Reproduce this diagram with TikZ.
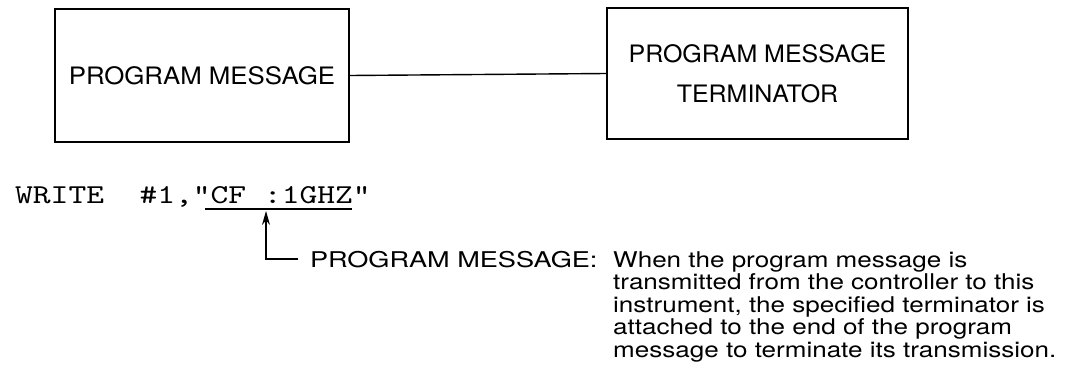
\documentclass[tikz,border=0pt]{standalone}
\usepackage{fontspec}
\usetikzlibrary{arrows.meta}
\newfontfamily\boxfonta[FakeStretch=1.075]{TeX Gyre Heros}
\newfontfamily\boxfontb[FakeStretch=1.04]{TeX Gyre Heros}
\newfontfamily\descfont[FakeStretch=1.2]{TeX Gyre Heros}
\newfontfamily\labelfont[FakeStretch=1.25]{TeX Gyre Heros}
\newfontfamily\courfont[FakeStretch=1.24]{lmmono10-regular.otf}
\tikzset{
  boxnode/.style={draw, line width=1.5pt, inner sep=0pt, align=center},
  conn/.style={line width=1.4pt},
  desc/.style={inner sep=0pt, font=\descfont\fontsize{21.7}{22.45}\selectfont, align=left},
  labeltext/.style={inner sep=0pt, font=\labelfont\fontsize{21.7}{22.45}\selectfont},
  codetext/.style={inner sep=0pt, font=\courfont\fontsize{27.3}{30}\selectfont},
  pointer/.style={line width=1.2pt, -{Stealth[length=14pt,width=8pt]}}
}
\begin{document}
\begin{tikzpicture}[x=1pt,y=-1pt]
\useasboundingbox (0,0) rectangle (1073,391);
% boxes
\node[boxnode, minimum width=294pt, minimum height=133pt, font=\boxfonta\fontsize{24}{40}\selectfont] (pm) at (202,75.5) {PROGRAM MESSAGE};
\node[boxnode, minimum width=301pt, minimum height=131pt, font=\boxfontb\fontsize{24}{40}\selectfont] (pmt) at (757.5,73.5) {PROGRAM MESSAGE\\TERMINATOR};
\draw[conn] (pm.east) -- (pmt.west);
% code line
\node[codetext, anchor=base west] (code) at (15,203) {WRITE\ \ \#1,"CF\ :1GHZ"};
\coordinate (ulstart) at (205,209);
\coordinate (ulend) at (352,209);
\draw[line width=2pt] (ulstart) -- (ulend);
\coordinate (tip) at (266,211);
% label and description
\node[labeltext, anchor=base west, outer xsep=12pt] (pmlabel) at (298,267) {PROGRAM MESSAGE:};
\node[desc, anchor=north west] (pmdesc) at (613,251.5) {When the program message is\\transmitted from the controller to this\\instrument, the specified terminator is\\attached to the end of the program\\message to terminate its transmission.};
\draw[pointer] (pmlabel.west) -| (tip);
\end{tikzpicture}
\end{document}
